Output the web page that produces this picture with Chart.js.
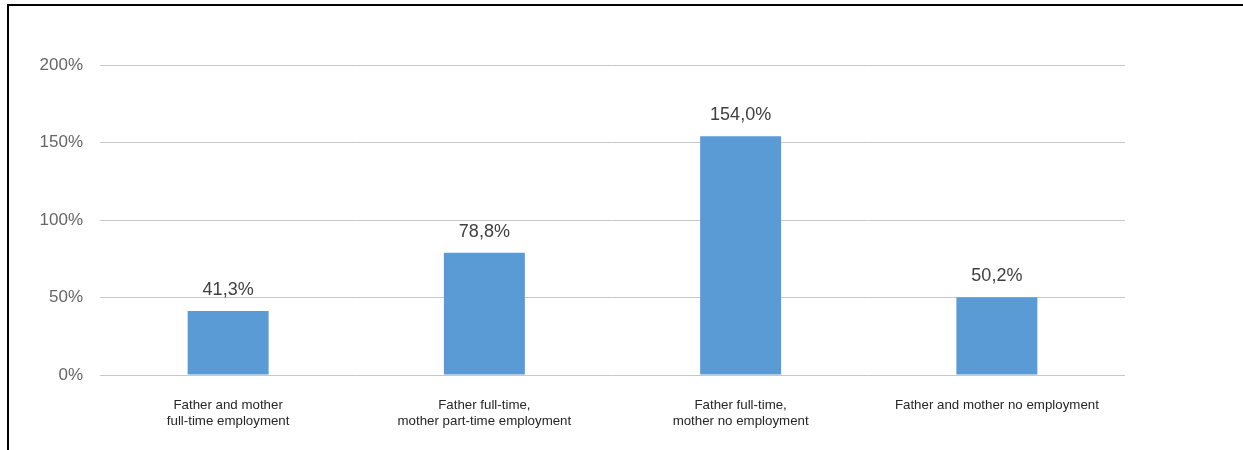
<!DOCTYPE html>
<html>
<head>
<meta charset="utf-8">
<script src="https://cdn.jsdelivr.net/npm/chart.js@4"></script>
<style>
  html, body { margin: 0; padding: 0; background: #fff; }
  #wrap { position: relative; width: 1243px; height: 450px; }
  #frame { position: absolute; left: 7px; top: 4px; right: 0; bottom: 0;
           border-top: 2px solid #000; border-left: 2px solid #000; pointer-events: none; }
  canvas { position: absolute; left: 0; top: 0; }
</style>
</head>
<body>
<div id="wrap">
  <canvas id="chart" width="1243" height="450"></canvas>
  <div id="frame"></div>
</div>
<script>
  const categories = [
    ['Father and mother', 'full-time employment'],
    ['Father full-time,', 'mother part-time employment'],
    ['Father full-time,', 'mother no employment'],
    'Father and mother no employment'
  ];
  const shares = [41.3, 78.8, 154.0, 50.2];
  const yTicks = [0, 50, 100, 150, 200];

  // writes the value above each bar, comma as decimal sign
  const valueLabels = {
    id: 'valueLabels',
    afterDatasetsDraw(chart) {
      const ctx = chart.ctx;
      const meta = chart.getDatasetMeta(0);
      ctx.save();
      ctx.font = '18px "Liberation Sans", Arial, sans-serif';
      ctx.fillStyle = '#404040';
      ctx.textAlign = 'center';
      ctx.textBaseline = 'middle';
      meta.data.forEach((bar, i) => {
        const txt = shares[i].toFixed(1).replace('.', ',') + '%';
        ctx.fillText(txt, bar.x, bar.y - 21);
      });
      ctx.restore();
    }
  };

  new Chart(document.getElementById('chart'), {
    type: 'bar',
    data: {
      labels: categories,
      datasets: [{
        data: shares,
        backgroundColor: '#5b9bd5',
        barPercentage: 0.316,
        categoryPercentage: 1
      }]
    },
    options: {
      responsive: false,
      animation: false,
      layout: { padding: { left: 0, right: 118, top: 65, bottom: 0 } },
      plugins: { legend: { display: false }, tooltip: { enabled: false } },
      scales: {
        x: {
          grid: { display: false },
          border: { display: false },
          ticks: {
            color: '#262626',
            font: { family: '"Liberation Sans", Arial, sans-serif', size: 13.3 },
            padding: 14,
            maxRotation: 0,
            autoSkip: false
          },
          afterFit(scale) { scale.height = 75; }
        },
        y: {
          min: 0,
          max: 200,
          afterBuildTicks(scale) { scale.ticks = yTicks.map(v => ({ value: v })); },
          grid: { color: '#c8c8c8', lineWidth: 1, drawTicks: false },
          border: { display: false },
          ticks: {
            color: '#666666',
            font: { family: '"Liberation Sans", Arial, sans-serif', size: 17 },
            padding: 17,
            callback: v => v + '%'
          },
          afterFit(scale) { scale.width = 100; }
        }
      }
    },
    plugins: [valueLabels]
  });
</script>
</body>
</html>
